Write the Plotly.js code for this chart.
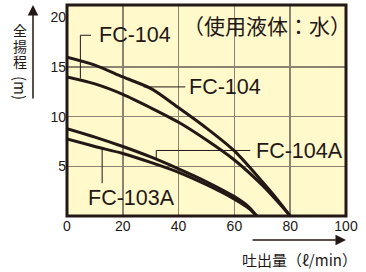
<!DOCTYPE html>
<html><head><meta charset="utf-8">
<script src="https://cdn.plot.ly/plotly-3.0.1.min.js"></script>
<style>html,body{margin:0;padding:0;background:#fff}#chart{width:366px;height:272px}</style>
</head><body><div id="chart"></div>
<script>
// data
const flowFC104 = [0, 10, 20, 30, 40, 50, 60, 70, 75, 80];
const headFC104high = [16.0, 15.2, 14.0, 12.85, 10.9, 8.85, 6.55, 3.45, 1.8, 0];
const headFC104low = [14.0, 13.3, 12.25, 10.9, 9.44, 7.65, 5.64, 3.1, 1.6, 0];
const flowA = [0, 10, 20, 30, 40, 50, 60, 65, 68];
const headFC104A = [8.8, 7.95, 7.0, 5.95, 4.75, 3.45, 1.95, 0.95, 0];
const headFC103A = [7.75, 7.0, 6.3, 5.4, 4.4, 3.15, 1.7, 0.8, 0];
const xTicks = [0, 20, 40, 60, 80, 100];
const yTicks = [5, 10, 15, 20];
const yGrid = [5, 10, 15];
const seriesNames = ['FC-104', 'FC-104', 'FC-104A', 'FC-103A'];
const noteText = '（使用液体：水）';
const yTitleChars = ['全', '揚', '程'];
const yTitleUnit = '(m)';
const xTitle = '吐出量（ℓ/min）';

const INK = '#231815';
const GRID = '#8c8472';
const lineStyle = {color: INK, width: 3, shape: 'spline', smoothing: 0.8};

const traces = [
  {x: flowFC104, y: headFC104high, name: seriesNames[0]},
  {x: flowFC104, y: headFC104low, name: seriesNames[1]},
  {x: flowA, y: headFC104A, name: seriesNames[2]},
  {x: flowA, y: headFC103A, name: seriesNames[3]}
].map(t => Object.assign(t, {type: 'scatter', mode: 'lines', line: lineStyle, hoverinfo: 'skip'}));

const labFont = {family: 'Liberation Sans, Arial, sans-serif', size: 21.5, color: INK};
const cjk = 'Noto Sans CJK JP, sans-serif';

const annotations = [
  {x: 10.8, y: 18.2, text: seriesNames[0], xanchor: 'left'},
  {x: 43.1, y: 13.0, text: seriesNames[1], xanchor: 'left'},
  {x: 67.0, y: 6.55, text: seriesNames[2], xanchor: 'left'},
  {x: 23.0, y: 1.8, text: seriesNames[3], xanchor: 'center'}
].map(a => Object.assign(a, {xref: 'x', yref: 'y', yanchor: 'middle', showarrow: false, font: labFont}));

annotations.push({x: 71.6, y: 19.25, xref: 'x', yref: 'y', text: noteText, showarrow: false,
  font: {family: cjk, size: 21, color: INK}, xanchor: 'center', yanchor: 'middle'});

// y title, upright CJK characters stacked
const yTitleX = (20 - 67) / 279;
yTitleChars.forEach((c, i) => {
  annotations.push({xref: 'paper', yref: 'paper', x: yTitleX, y: (216 - (30 + i * 15.5)) / 211,
    text: c, showarrow: false, font: {family: cjk, size: 14, color: INK}, xanchor: 'center', yanchor: 'middle'});
});
annotations.push({xref: 'paper', yref: 'paper', x: yTitleX, y: (216 - 88) / 211, text: yTitleUnit,
  textangle: 90, showarrow: false, font: {family: cjk, size: 15, color: INK}, xanchor: 'center', yanchor: 'middle'});

// axis arrows
annotations.push({xref: 'paper', yref: 'paper', x: (33 - 67) / 279, y: 1.0, ax: 0, ay: 95, text: '',
  showarrow: true, arrowhead: 2, arrowsize: 1.4, arrowwidth: 1.5, arrowcolor: INK});
annotations.push({xref: 'paper', yref: 'paper', x: (346 - 67) / 279, y: (216 - 240) / 211, ax: -95, ay: 0, text: '',
  showarrow: true, arrowhead: 2, arrowsize: 1.4, arrowwidth: 1.5, arrowcolor: INK});
// x title
annotations.push({xref: 'paper', yref: 'paper', x: (240 - 67) / 279, y: (216 - 259) / 211, text: xTitle,
  showarrow: false, font: {family: cjk, size: 15, color: INK}, xanchor: 'left', yanchor: 'middle'});

const leader = {color: INK, width: 1};
const shapes = [
  {type: 'path', xref: 'x', yref: 'y', path: 'M4.8,13.85 L4.8,18.2 L8.6,18.2', line: leader},
  {type: 'line', xref: 'x', yref: 'y', x0: 27.5, y0: 13.0, x1: 42.4, y1: 13.0, line: leader},
  {type: 'path', xref: 'x', yref: 'y', path: 'M32,5.65 L32,6.6 L65.7,6.6', line: leader},
  {type: 'line', xref: 'x', yref: 'y', x0: 12.6, y0: 6.8, x1: 12.6, y1: 3.3, line: leader},
  {type: 'rect', xref: 'paper', yref: 'paper', x0: 0, y0: 0, x1: 1, y1: 1, line: {color: INK, width: 3}, layer: 'above'}
];

const layout = {
  width: 366, height: 272,
  margin: {l: 67, r: 20, t: 5, b: 56, pad: 0},
  paper_bgcolor: '#ffffff',
  plot_bgcolor: '#fff9cc',
  showlegend: false,
  xaxis: {range: [0, 100], tickmode: 'array', tickvals: xTicks, ticks: '', showgrid: true,
    gridcolor: GRID, gridwidth: 1.5, zeroline: false, showline: false,
    tickfont: {family: 'Liberation Sans, Arial, sans-serif', size: 14, color: INK}, fixedrange: true},
  yaxis: {range: [0, 21.25], tickmode: 'array', tickvals: yTicks, ticks: '', showgrid: false,
    minor: {tickmode: 'array', tickvals: yGrid, showgrid: true, gridcolor: GRID, gridwidth: 1.5, ticks: ''},
    zeroline: false, showline: false,
    tickfont: {family: 'Liberation Sans, Arial, sans-serif', size: 14, color: INK}, fixedrange: true},
  annotations: annotations,
  shapes: shapes
};

Plotly.newPlot('chart', traces, layout, {displayModeBar: false, staticPlot: true});
</script>
</body></html>
